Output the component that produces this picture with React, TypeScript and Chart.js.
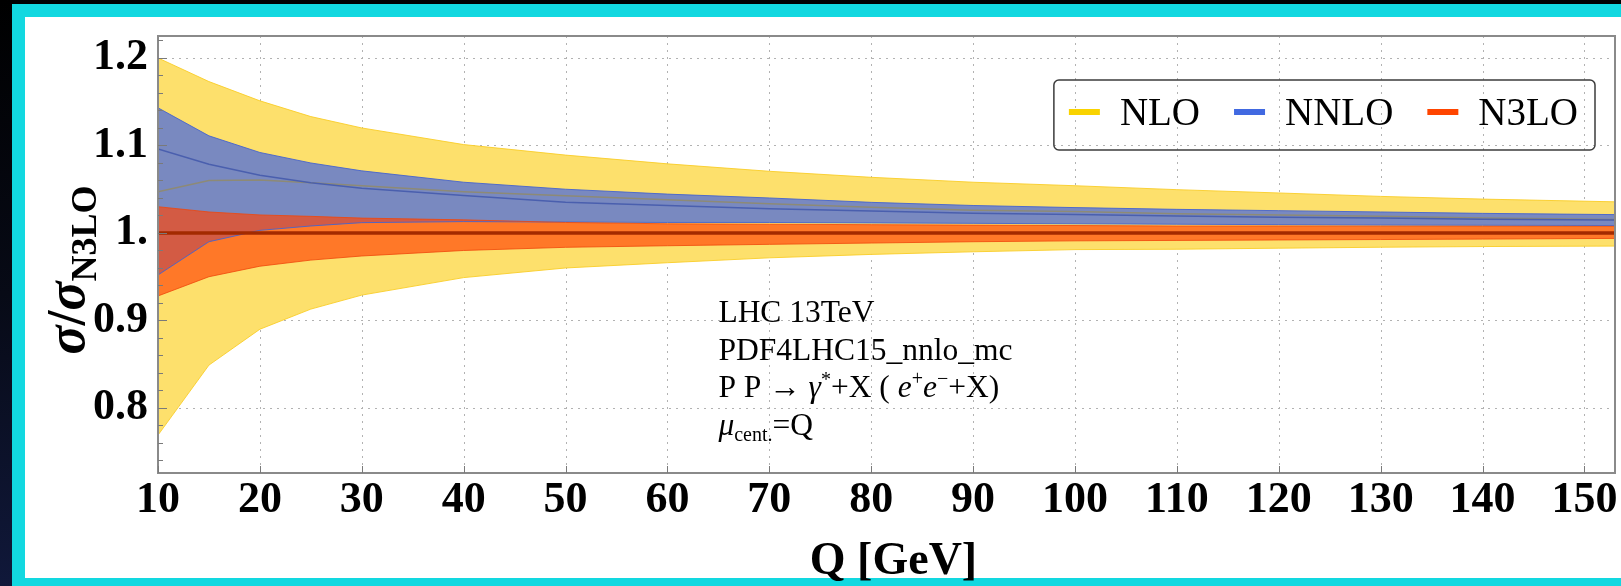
import React, { useEffect, useRef } from "react";
import { Chart, registerables } from "chart.js";

Chart.register(...registerables);

// ---------------- data ----------------
const Q = [10, 15, 20, 25, 30, 40, 50, 60, 70, 80, 90, 100, 110, 120, 130, 140, 153];
const nloUpper = [1.2, 1.173, 1.151, 1.133, 1.12, 1.101, 1.089, 1.079, 1.0705, 1.0636, 1.058, 1.054, 1.0495, 1.0457, 1.0418, 1.0387, 1.0356];
const nloLower = [0.769, 0.849, 0.89, 0.913, 0.929, 0.949, 0.96, 0.966, 0.9716, 0.9755, 0.9785, 0.981, 0.9814, 0.9826, 0.9837, 0.9845, 0.985];
const nloCentral = [1.047, 1.06, 1.0606, 1.0575, 1.054, 1.047, 1.0425, 1.038, 1.0333, 1.0295, 1.026, 1.0245, 1.022, 1.0205, 1.019, 1.017, 1.0155];
const nnloUpper = [1.143, 1.111, 1.092, 1.08, 1.071, 1.058, 1.05, 1.0444, 1.04, 1.035, 1.0314, 1.029, 1.027, 1.0255, 1.024, 1.0224, 1.021];
const nnloCentral = [1.096, 1.0785, 1.066, 1.0575, 1.051, 1.0427, 1.035, 1.0314, 1.0276, 1.025, 1.0226, 1.021, 1.0195, 1.018, 1.017, 1.0158, 1.0147];
const nnloLower = [0.952, 0.99, 1.003, 1.008, 1.0118, 1.013, 1.0125, 1.012, 1.012, 1.0115, 1.011, 1.0105, 1.01, 1.0095, 1.009, 1.0088, 1.0085];
const n3loUpper = [1.03, 1.024, 1.0206, 1.019, 1.017, 1.015, 1.012, 1.0105, 1.01, 1.0095, 1.009, 1.0085, 1.008, 1.008, 1.0078, 1.0077, 1.0075];
const n3loLower = [0.928, 0.95, 0.962, 0.969, 0.9737, 0.98, 0.9836, 0.9854, 0.987, 0.9885, 0.99, 0.991, 0.9915, 0.992, 0.9925, 0.993, 0.9938];
const n3loCentral = [1, 1, 1, 1, 1, 1, 1, 1, 1, 1, 1, 1, 1, 1, 1, 1, 1];

const xTicks = [10, 20, 30, 40, 50, 60, 70, 80, 90, 100, 110, 120, 130, 140, 150];
const yTicks = [0.8, 0.9, 1.0, 1.1, 1.2];

const legendLabels = ["NLO", "NNLO", "N3LO"];
const legendColors = ["#f9d300", "#4169e1", "#ff4500"];

const infoLine1 = "LHC 13TeV";
const infoLine2 = "PDF4LHC15_nnlo_mc";

// ---------------- styles ----------------
const SERIF = "'Liberation Serif', 'Times New Roman', serif";
const YELLOW = "#fde06c";
const YELLOW_EDGE = "rgba(250, 205, 40, 0.9)";
const BLUE = "rgba(87, 115, 214, 0.8)";
const BLUE_EDGE = "rgba(70, 100, 205, 0.9)";
const RED = "rgba(255, 69, 7, 0.67)";
const RED_EDGE = "rgba(240, 70, 10, 0.8)";

type Run = { t: string; font: string; dy?: number };

function drawRuns(ctx: CanvasRenderingContext2D, x: number, y: number, runs: Run[]) {
  let cx = x;
  for (const r of runs) {
    ctx.font = r.font;
    ctx.fillText(r.t, cx, y + (r.dy || 0));
    cx += ctx.measureText(r.t).width;
  }
  return cx - x;
}

function runsWidth(ctx: CanvasRenderingContext2D, runs: Run[]) {
  let w = 0;
  for (const r of runs) {
    ctx.font = r.font;
    w += ctx.measureText(r.t).width;
  }
  return w;
}

const decor = {
  id: "decor",
  beforeDraw(chart: any) {
    const { ctx, chartArea: a, scales } = chart;
    const xs = scales.x;
    const ys = scales.y;
    ctx.save();
    ctx.strokeStyle = "#b2b2b2";
    ctx.lineWidth = 1;
    ctx.setLineDash([2, 5]);
    for (const v of xTicks) {
      const px = Math.round(xs.getPixelForValue(v)) + 0.5;
      ctx.beginPath();
      ctx.moveTo(px, a.top);
      ctx.lineTo(px, a.bottom);
      ctx.stroke();
    }
    for (const v of yTicks) {
      const py = Math.round(ys.getPixelForValue(v)) + 0.5;
      ctx.beginPath();
      ctx.moveTo(a.left, py);
      ctx.lineTo(a.right, py);
      ctx.stroke();
    }
    ctx.restore();
  },
  afterDraw(chart: any) {
    const { ctx, chartArea: a, scales } = chart;
    const xs = scales.x;
    const ys = scales.y;
    ctx.save();

    // frame
    ctx.strokeStyle = "#8a8a8a";
    ctx.lineWidth = 2;
    ctx.strokeRect(a.left, a.top, a.right - a.left, a.bottom - a.top);

    // inward ticks
    ctx.strokeStyle = "#7a7a7a";
    ctx.lineWidth = 1;
    for (let k = 37; k <= 61; k++) {
      const v = k / 50;
      const py = Math.round(ys.getPixelForValue(v)) + 0.5;
      const len = k % 5 === 0 ? 9 : 5;
      ctx.beginPath();
      ctx.moveTo(a.left, py);
      ctx.lineTo(a.left + len, py);
      ctx.stroke();
    }
    for (const v of xTicks) {
      const px = Math.round(xs.getPixelForValue(v)) + 0.5;
      ctx.beginPath();
      ctx.moveTo(px, a.bottom);
      ctx.lineTo(px, a.bottom - 7);
      ctx.stroke();
    }

    // legend
    ctx.fillStyle = "#000";
    ctx.textBaseline = "alphabetic";
    ctx.textAlign = "left";
    const lf = `39px ${SERIF}`;
    ctx.font = lf;
    const symW = 31, gapT = 20, gapN = 34, padL = 15, padR = 17;
    let total = padL + padR;
    legendLabels.forEach((l, i) => {
      total += symW + gapT + ctx.measureText(l).width + (i < legendLabels.length - 1 ? gapN : 0);
    });
    const boxRight = a.right - 20;
    const boxLeft = boxRight - total;
    const boxTop = a.top + 44;
    const boxH = 70;
    ctx.strokeStyle = "#3c3c3c";
    ctx.lineWidth = 1.5;
    ctx.beginPath();
    (ctx as any).roundRect(boxLeft, boxTop, total, boxH, 5);
    ctx.stroke();
    let cx = boxLeft + padL;
    const symY = boxTop + 32;
    legendLabels.forEach((l, i) => {
      ctx.strokeStyle = legendColors[i];
      ctx.lineWidth = 6;
      ctx.lineCap = "butt";
      ctx.beginPath();
      ctx.moveTo(cx, symY);
      ctx.lineTo(cx + symW, symY);
      ctx.stroke();
      cx += symW + gapT;
      ctx.font = lf;
      ctx.fillText(l, cx, boxTop + 45);
      cx += ctx.measureText(l).width + gapN;
    });

    // annotation
    const N = `31.5px ${SERIF}`;
    const I = `italic 31.5px ${SERIF}`;
    const S = `20px ${SERIF}`;
    const ax = xs.getPixelForValue(65);
    drawRuns(ctx, ax, ys.getPixelForValue(0.898), [{ t: infoLine1, font: N }]);
    drawRuns(ctx, ax, ys.getPixelForValue(0.855), [{ t: infoLine2, font: N }]);
    drawRuns(ctx, ax, ys.getPixelForValue(0.8126), [
      { t: "P P \u2192 ", font: N },
      { t: "\u03B3", font: I },
      { t: "*", font: S, dy: -11 },
      { t: "+X ( ", font: N },
      { t: "e", font: I },
      { t: "+", font: S, dy: -12 },
      { t: "e", font: I },
      { t: "\u2212", font: S, dy: -12 },
      { t: "+X)", font: N },
    ]);
    drawRuns(ctx, ax, ys.getPixelForValue(0.769), [
      { t: "\u03BC", font: I },
      { t: "cent.", font: S, dy: 6 },
      { t: "=Q", font: N },
    ]);

    // y title
    const yRuns: Run[] = [
      { t: "\u03C3", font: `italic bold 54px ${SERIF}` },
      { t: "/", font: `bold 54px ${SERIF}` },
      { t: "\u03C3", font: `italic bold 54px ${SERIF}` },
      { t: "N3LO", font: `bold 36px ${SERIF}`, dy: 12 },
    ];
    const tw = runsWidth(ctx, yRuns);
    ctx.save();
    ctx.translate(84, 270);
    ctx.rotate(-Math.PI / 2);
    drawRuns(ctx, -tw / 2, 0, yRuns);
    ctx.restore();

    // x title
    ctx.font = `bold 46px ${SERIF}`;
    ctx.textAlign = "center";
    ctx.fillText("Q [GeV]", (a.left + a.right) / 2 + 7, 574);

    ctx.restore();
  },
};

export default function App() {
  const ref = useRef<HTMLCanvasElement>(null);

  useEffect(() => {
    const canvas = ref.current;
    if (!canvas) return;
    const pts = (ys: number[]) => Q.map((q, i) => ({ x: q, y: ys[i] }));
    const tickFont = { family: SERIF, size: 44, weight: "bold" as const, lineHeight: 1.2 };

    const chart = new Chart(canvas, {
      type: "line",
      data: {
        datasets: [
          { label: "NLO upper", data: pts(nloUpper), fill: "+1", backgroundColor: YELLOW, borderColor: YELLOW_EDGE, borderWidth: 1, order: 30 },
          { label: "NLO lower", data: pts(nloLower), fill: false, borderColor: YELLOW_EDGE, borderWidth: 1, order: 30 },
          { label: "NNLO upper", data: pts(nnloUpper), fill: "+1", backgroundColor: BLUE, borderColor: BLUE_EDGE, borderWidth: 1, order: 20 },
          { label: "NNLO lower", data: pts(nnloLower), fill: false, borderColor: BLUE_EDGE, borderWidth: 1, order: 20 },
          { label: "N3LO upper", data: pts(n3loUpper), fill: "+1", backgroundColor: RED, borderColor: RED_EDGE, borderWidth: 1, order: 10 },
          { label: "N3LO lower", data: pts(n3loLower), fill: false, borderColor: RED_EDGE, borderWidth: 1, order: 10 },
          { label: "NLO", data: pts(nloCentral), fill: false, borderColor: "#8d8a76", borderWidth: 1.5, order: 2 },
          { label: "NNLO", data: pts(nnloCentral), fill: false, borderColor: "#4a5fae", borderWidth: 1.5, order: 1 },
          { label: "N3LO", data: pts(n3loCentral), fill: false, borderColor: "#a32a00", borderWidth: 3.5, order: 0 },
        ] as any,
      },
      options: {
        responsive: false,
        animation: false,
        devicePixelRatio: 1,
        parsing: false as any,
        layout: { padding: { top: 36, right: 6, left: 0, bottom: 0 } },
        elements: { point: { radius: 0 }, line: { tension: 0 } },
        plugins: {
          legend: { display: false },
          tooltip: { enabled: false },
          filler: { drawTime: "beforeDatasetsDraw", propagate: false },
        } as any,
        scales: {
          x: {
            type: "linear",
            min: 10,
            max: 153,
            grid: { display: false, drawTicks: false },
            border: { display: false },
            afterBuildTicks: (s: any) => {
              s.ticks = xTicks.map((v) => ({ value: v }));
            },
            afterFit: (s: any) => {
              s.height = 113;
              s.paddingLeft = 0;
              s.paddingRight = 0;
            },
            ticks: {
              autoSkip: false,
              maxRotation: 0,
              minRotation: 0,
              padding: 1,
              color: "#000",
              font: tickFont,
              callback: (v: any) => String(v),
            },
          },
          y: {
            type: "linear",
            min: 0.7257,
            max: 1.2251,
            grid: { display: false, drawTicks: false },
            border: { display: false },
            afterBuildTicks: (s: any) => {
              s.ticks = yTicks.map((v) => ({ value: v }));
            },
            afterFit: (s: any) => {
              s.width = 158;
              s.paddingTop = 0;
              s.paddingBottom = 0;
            },
            ticks: {
              padding: 10,
              color: "#000",
              font: tickFont,
              callback: (v: any) => (Math.abs(Number(v) - 1) < 1e-9 ? "1." : Number(v).toFixed(1)),
            },
          },
        } as any,
      },
      plugins: [decor as any],
    });
    return () => chart.destroy();
  }, []);

  return (
    <div
      style={{
        position: "fixed",
        left: 0,
        top: 0,
        width: 1621,
        height: 586,
        overflow: "hidden",
        background: "linear-gradient(180deg, #000 0%, #070a16 50%, #10183a 100%)",
      }}
    >
      <div style={{ position: "absolute", left: 12, top: 4, right: 0, bottom: 0, background: "#12d8e0" }} />
      <div style={{ position: "absolute", left: 25, top: 17, right: 0, height: 561, background: "#fff" }} />
      <canvas
        ref={ref}
        width={1621}
        height={586}
        style={{ position: "absolute", left: 0, top: 0, width: 1621, height: 586 }}
      />
    </div>
  );
}
